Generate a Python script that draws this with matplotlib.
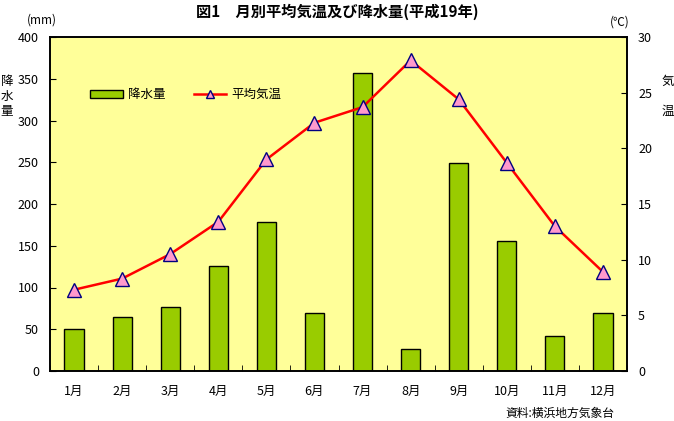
import numpy as np
import matplotlib.pyplot as plt

plt.rcParams['font.family'] = ['Noto Sans CJK JP', 'DejaVu Sans']

months = ['1月', '2月', '3月', '4月', '5月', '6月', '7月', '8月', '9月', '10月', '11月', '12月']
rain = [50, 64.5, 76.5, 125.5, 178, 69, 356.5, 26, 249, 155.5, 41.5, 69]
temp = [7.3, 8.3, 10.5, 13.4, 19.0, 22.3, 23.7, 27.9, 24.4, 18.7, 13.0, 8.9]

fig = plt.figure(figsize=(6.74, 4.21), dpi=100)
ax = fig.add_axes([50/674, 1-371/421, 577/674, 334/421])
ax.set_facecolor('#FFFF99')

x = np.arange(len(months))
b = ax.bar(x, rain, width=0.4, color='#99CC00', edgecolor='black', linewidth=1, zorder=2)
ax.set_xlim(-0.5, 11.5)
ax.set_ylim(0, 400)
ax.set_yticks(range(0, 401, 50))
ax.set_xticks(x)
ax.set_xticklabels(months, fontsize=9)
ax.tick_params(axis='x', length=0, pad=10)
ax.set_xticks(np.arange(-0.5, 12, 1), minor=True)
ax.tick_params(axis='x', which='minor', direction='in', length=4)
ax.tick_params(axis='y', direction='in', length=4, labelsize=9, pad=8)

ax2 = ax.twinx()
l, = ax2.plot(x, temp, color='red', linewidth=1.8, marker='^', markersize=10,
              markerfacecolor='#FF99CC', markeredgecolor='#000080', markeredgewidth=1, zorder=3)
ax2.set_ylim(0, 30)
ax2.set_yticks(range(0, 31, 5))
ax2.tick_params(axis='y', direction='in', length=4, labelsize=9, pad=8)

for a in (ax, ax2):
    for s in a.spines.values():
        s.set_linewidth(1.2)

ax.legend([b, l], ['降水量', '平均気温'], loc='upper left', bbox_to_anchor=(0.05, 0.88),
          ncol=2, frameon=False, fontsize=9, handlelength=2.6, columnspacing=2.3,
          handletextpad=0.4, markerscale=0.6)

fig.text(0.5, 1-12/421, '図1　月別平均気温及び降水量(平成19年)', ha='center', va='center', fontsize=11, fontweight='bold')
fig.text(42/674, 1-20/421, '(mm)', ha='center', va='center', fontsize=8.5)
fig.text(620/674, 1-22/421, '(℃)', ha='center', va='center', fontsize=8.5)
fig.text(7/674, 1-96/421, '降\n水\n量', ha='center', va='center', fontsize=9, linespacing=1.2)
fig.text(668/674, 1-96/421, '気\n\n温', ha='center', va='center', fontsize=9, linespacing=1.2)
fig.text(614/674, 1-413/421, '資料:横浜地方気象台', ha='right', va='center', fontsize=8.5)

fig.savefig('out.png', dpi=100)
